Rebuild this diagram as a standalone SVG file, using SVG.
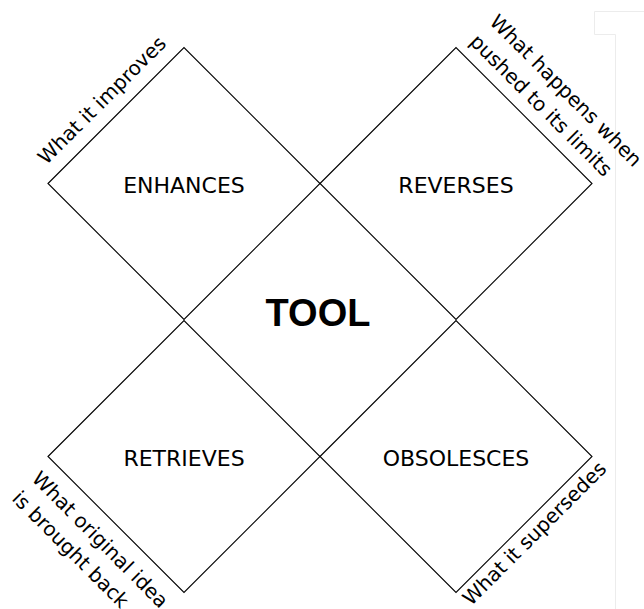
<svg xmlns="http://www.w3.org/2000/svg" width="644" height="609" viewBox="0 0 644 609">
  <style>
    .quad { fill: none; stroke: #000; stroke-width: 1.1; }
    .name { font-family: "DejaVu Sans", sans-serif; font-size: 22px; fill: #000; text-anchor: middle; }
    .note { font-family: "DejaVu Sans", sans-serif; font-size: 20px; fill: #000; }
    .mid { text-anchor: middle; }
    .core { font-family: "Liberation Sans", Arial, sans-serif; font-size: 38px; font-weight: bold; fill: #000; text-anchor: middle; }
    .frame { fill: none; stroke: #ececec; stroke-width: 1; }
  </style>
  <rect width="644" height="609" fill="#fff"/>

  <!-- faint page frame at the right edge -->
  <path class="frame" d="M644,11.5 H594.5 V34.5 H615.5 V609"/>

  <g id="connectors"></g>

  <g id="enhances">
    <polygon class="quad" points="48,183.5 184,47.5 320,183.5 184,319.5"/>
    <text class="name" x="184" y="192.5">ENHANCES</text>
    <text class="note mid" transform="translate(106.8,105.1) rotate(-45)" x="0" y="0">What it improves</text>
  </g>

  <g id="reverses">
    <polygon class="quad" points="320,183.5 456,47.5 592,183.5 456,319.5"/>
    <text class="name" x="456" y="192.5">REVERSES</text>
    <text class="note" transform="translate(468.8,42.7) rotate(45)">
      <tspan x="0" y="-28">What happens when</tspan>
      <tspan x="0" y="0">pushed to its limits</tspan>
    </text>
  </g>

  <g id="retrieves">
    <polygon class="quad" points="48,456.5 184,320.5 320,456.5 184,592.5"/>
    <text class="name" x="184" y="466">RETRIEVES</text>
    <text class="note" transform="translate(30.7,479.8) rotate(45)">
      <tspan x="0" y="0">What original idea</tspan>
      <tspan x="0" y="28">is brought back</tspan>
    </text>
  </g>

  <g id="obsolesces">
    <polygon class="quad" points="320,456.5 456,320.5 592,456.5 456,592.5"/>
    <text class="name" x="456" y="466">OBSOLESCES</text>
    <text class="note mid" transform="translate(539.3,538.2) rotate(-45)" x="0" y="0">What it supersedes</text>
  </g>

  <g id="tool">
    <text class="core" x="318" y="326">TOOL</text>
  </g>
</svg>
